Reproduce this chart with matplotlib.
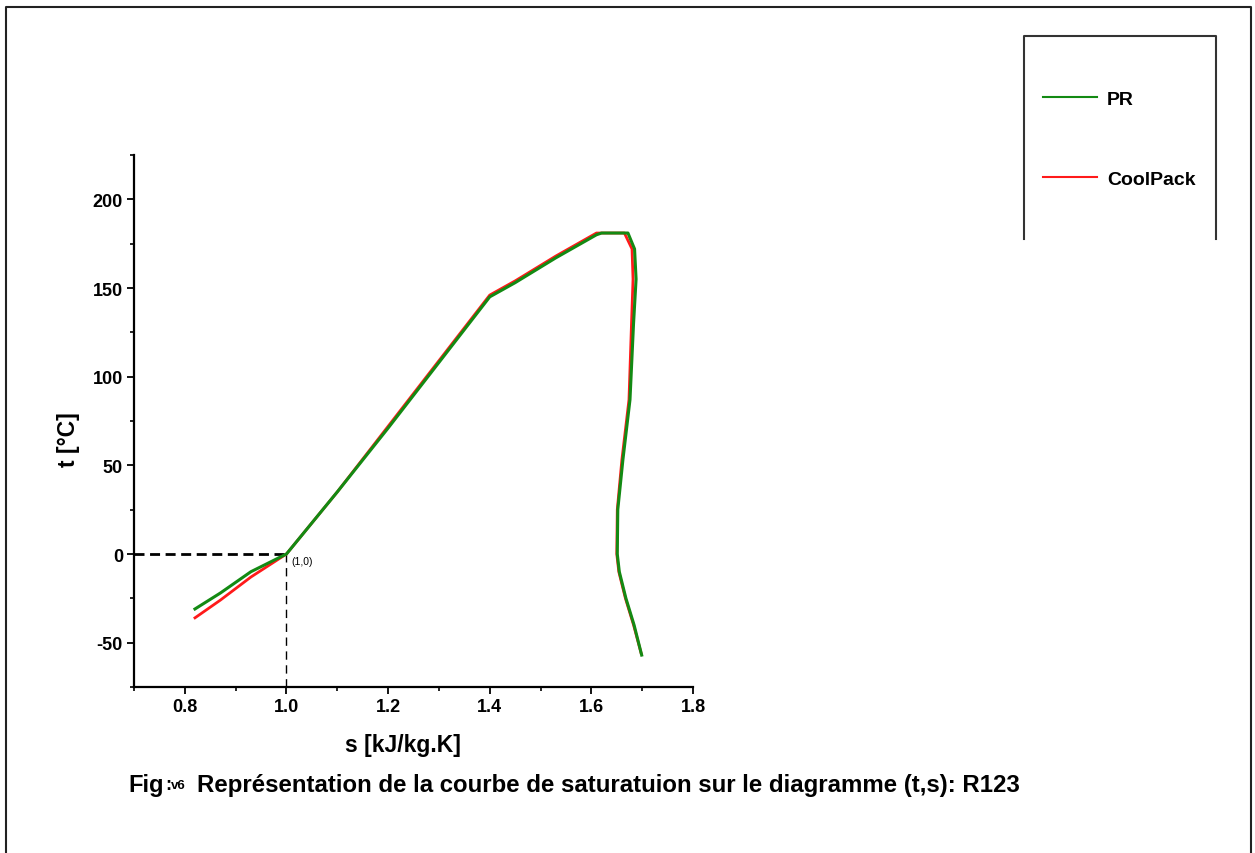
import matplotlib
matplotlib.use('Agg')
import matplotlib.pyplot as plt
from matplotlib.lines import Line2D
from matplotlib.ticker import MultipleLocator

# ---- data ----
pr_s = [0.82, 0.87, 0.93, 1.00, 1.10, 1.20, 1.30, 1.40, 1.45, 1.53, 1.61,
        1.62, 1.672, 1.685, 1.688, 1.683, 1.676, 1.662, 1.652, 1.651, 1.655,
        1.668, 1.684, 1.699]
pr_t = [-31, -22, -10, 0, 35, 71, 108, 145, 153, 167, 180,
        181, 181, 172, 155, 130, 87, 53, 25, 0, -10,
        -25, -40, -57]

cp_s = [0.82, 0.87, 0.93, 1.00, 1.10, 1.20, 1.30, 1.40, 1.45, 1.53, 1.61,
        1.62, 1.665, 1.680, 1.682, 1.679, 1.674, 1.660, 1.651, 1.650, 1.654,
        1.667, 1.683, 1.698]
cp_t = [-36, -26, -13, 0, 35, 72, 109, 146, 154, 168, 181,
        181, 181, 172, 155, 130, 87, 53, 25, 0, -10,
        -25, -40, -56]

ref_s, ref_t = 1.0, 0.0
xlim = (0.7, 1.8)
ylim = (-75, 225)
xticks = [0.8, 1.0, 1.2, 1.4, 1.6, 1.8]
yticks = [-50, 0, 50, 100, 150, 200]

W, H = 1255, 854
fig = plt.figure(figsize=(W / 100, H / 100), dpi=100)
fig.patch.set_facecolor('white')

L, R, T, B = 134, 693, 156, 688
ax = fig.add_axes([L / W, 1 - B / H, (R - L) / W, (B - T) / H])

ax.plot(pr_s, pr_t, color='#138a13', lw=2.2, label='PR', zorder=3)
ax.plot(cp_s, cp_t, color='#ff1a1a', lw=2.0, label='CoolPack', zorder=2)

# reference point dashed guides
ax.plot([xlim[0], ref_s], [ref_t, ref_t], color='black', lw=2.0,
        dashes=(3.6, 2), zorder=1)
ax.plot([ref_s, ref_s], [ylim[0], ref_t], color='black', lw=1.0,
        dashes=(6, 4), zorder=1)
ax.text(ref_s + 0.01, ref_t - 1, '(1,0)', fontsize=7.5, ha='left', va='top',
        family='Liberation Sans')

ax.set_xlim(*xlim)
ax.set_ylim(*ylim)
ax.set_xticks(xticks)
ax.set_yticks(yticks)
ax.set_xticklabels(['%.1f' % v for v in xticks])
ax.set_yticklabels([str(v) for v in yticks])
ax.xaxis.set_minor_locator(MultipleLocator(0.1))
ax.yaxis.set_minor_locator(MultipleLocator(25))

for sp in ['top', 'right']:
    ax.spines[sp].set_visible(False)
for sp in ['left', 'bottom']:
    ax.spines[sp].set_linewidth(1.6)
ax.tick_params(which='major', direction='out', length=5, width=1.3,
               labelsize=13, pad=3)
ax.tick_params(which='minor', direction='out', length=3, width=1.2)
for lab in ax.get_xticklabels() + ax.get_yticklabels():
    lab.set_fontweight('bold')
    lab.set_family('Liberation Sans')

fig.text(403 / W, 1 - 746 / H, 's [kJ/kg.K]', fontsize=16.5, fontweight='bold',
         ha='center', va='center', family='Liberation Sans')
fig.text(68 / W, 1 - 440 / H, 't [°C]', fontsize=16.5, fontweight='bold',
         ha='center', va='center', rotation=90, family='Liberation Sans')

# legend box
fig.add_artist(Line2D([1024 / W, 1024 / W, 1216 / W, 1216 / W],
                      [1 - 240 / H, 1 - 37 / H, 1 - 37 / H, 1 - 240 / H],
                      color='#333333', lw=1.5))
leg = ax.legend(loc='center left', bbox_to_anchor=(1043 / W, 1 - 140 / H),
                bbox_transform=fig.transFigure, frameon=False,
                borderpad=0, borderaxespad=0, handlelength=2.78,
                handletextpad=0.5, labelspacing=3.2,
                prop={'family': 'Liberation Sans', 'size': 14,
                      'weight': 'bold'})
for ln in leg.get_lines():
    ln.set_linewidth(1.5)

# figure border
fig.add_artist(Line2D([6 / W, 6 / W, 1251 / W, 1251 / W],
                      [0, 1 - 8 / H, 1 - 8 / H, 0], color='#222222', lw=1.5))

# caption
cy = 1 - 786 / H
fam = 'Liberation Sans'
fig.text(128 / W, cy, 'Fig', fontsize=17, fontweight='bold',
         ha='left', va='center', family=fam)
fig.text(165 / W, cy, ':', fontsize=13, fontweight='bold',
         ha='left', va='center', family=fam)
fig.text(171 / W, cy, 'v6', fontsize=9.5, fontweight='bold',
         ha='left', va='center', family=fam)
fig.text(197 / W, cy,
         'Représentation de la courbe de saturatuion sur le diagramme (t,s): R123',
         fontsize=17.3, fontweight='bold', ha='left', va='center', family=fam)

fig.savefig('out.png', dpi=100, facecolor='white')
